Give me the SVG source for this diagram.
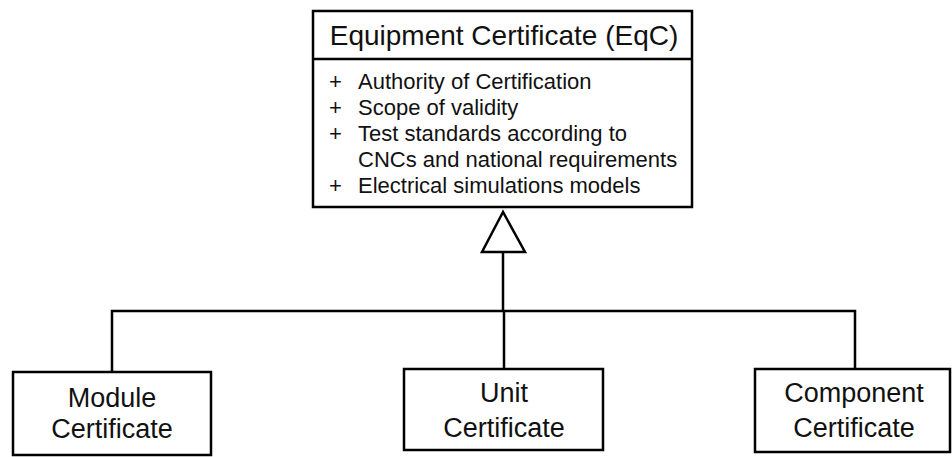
<svg xmlns="http://www.w3.org/2000/svg" width="952" height="457" viewBox="0 0 952 457">
<style>
.box{fill:#fff;stroke:#000;stroke-width:2.5}
.ln{fill:none;stroke:#000;stroke-width:2.5}
.t{font-family:"Liberation Sans",Arial,sans-serif;fill:#111}
.title{font-size:28px;text-anchor:middle}
.attr{font-size:22px}
.lbl{font-size:27px;text-anchor:middle}
</style>
<rect width="952" height="457" fill="#fff"/>
<g id="connectors">
<polyline class="ln" points="503,252 503,311"/>
<polyline class="ln" points="112,372 112,311 855,311 855,369"/>
<polyline class="ln" points="504,311 504,369"/>
<polygon class="ln" fill="#fff" style="fill:#fff" points="503,212 482,252 525,252"/>
</g>
<g id="eqc">
<rect class="box" x="313" y="11" width="379" height="196"/>
<line class="ln" x1="313" y1="59" x2="692" y2="59"/>
<text class="t title" x="504" y="45">Equipment Certificate (EqC)</text>
<g class="t attr">
<text x="329" y="89">+</text><text x="358" y="89">Authority of Certification</text>
<text x="329" y="115">+</text><text x="358" y="115">Scope of validity</text>
<text x="329" y="141">+</text><text x="358" y="141">Test standards according to</text>
<text x="358" y="167">CNCs and national requirements</text>
<text x="329" y="193">+</text><text x="358" y="193">Electrical simulations models</text>
</g>
</g>
<g id="module">
<rect class="box" x="13" y="372" width="198" height="83"/>
<text class="t lbl" x="112" y="407">Module</text>
<text class="t lbl" x="112" y="438">Certificate</text>
</g>
<g id="unit">
<rect class="box" x="404" y="369" width="199" height="81"/>
<text class="t lbl" x="504" y="402">Unit</text>
<text class="t lbl" x="504" y="437">Certificate</text>
</g>
<g id="component">
<rect class="box" x="755" y="369" width="195" height="83"/>
<text class="t lbl" x="854" y="402">Component</text>
<text class="t lbl" x="854" y="437">Certificate</text>
</g>
</svg>
